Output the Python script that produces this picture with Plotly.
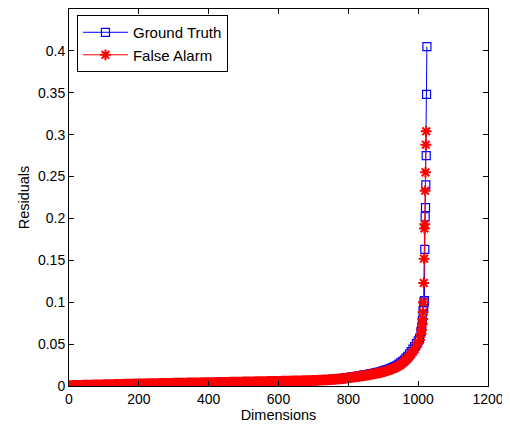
import plotly.graph_objects as go

# Dimension indices: bulk sampled every 5 units, then the steep tail
bulk_x = list(range(0, 1001, 5))

red_bulk = [
    0.0005, 0.0005, 0.0006, 0.0006, 0.0007, 0.0007, 0.0008, 0.0008, 0.0009, 0.0009,
    0.0010, 0.0010, 0.0011, 0.0011, 0.0012, 0.0012, 0.0013, 0.0013, 0.0014, 0.0014,
    0.0015, 0.0015, 0.0016, 0.0016, 0.0017, 0.0017, 0.0018, 0.0018, 0.0019, 0.0019,
    0.0020, 0.0020, 0.0021, 0.0021, 0.0022, 0.0022, 0.0023, 0.0023, 0.0024, 0.0024,
    0.0025, 0.0025, 0.0026, 0.0026, 0.0026, 0.0027, 0.0027, 0.0027, 0.0028, 0.0028,
    0.0029, 0.0029, 0.0030, 0.0030, 0.0030, 0.0031, 0.0031, 0.0031, 0.0032, 0.0032,
    0.0033, 0.0033, 0.0034, 0.0034, 0.0034, 0.0035, 0.0035, 0.0035, 0.0036, 0.0036,
    0.0037, 0.0037, 0.0037, 0.0038, 0.0038, 0.0038, 0.0039, 0.0039, 0.0040, 0.0040,
    0.0040, 0.0041, 0.0041, 0.0041, 0.0042, 0.0042, 0.0043, 0.0043, 0.0043, 0.0044,
    0.0044, 0.0044, 0.0045, 0.0045, 0.0046, 0.0046, 0.0046, 0.0047, 0.0047, 0.0047,
    0.0048, 0.0048, 0.0049, 0.0049, 0.0050, 0.0050, 0.0050, 0.0051, 0.0051, 0.0051,
    0.0052, 0.0052, 0.0053, 0.0053, 0.0054, 0.0054, 0.0054, 0.0055, 0.0055, 0.0055,
    0.0056, 0.0056, 0.0057, 0.0057, 0.0058, 0.0058, 0.0059, 0.0059, 0.0060, 0.0060,
    0.0061, 0.0061, 0.0062, 0.0062, 0.0063, 0.0063, 0.0064, 0.0064, 0.0065, 0.0065,
    0.0066, 0.0067, 0.0068, 0.0069, 0.0070, 0.0071, 0.0072, 0.0073, 0.0074, 0.0075,
    0.0076, 0.0078, 0.0079, 0.0081, 0.0082, 0.0084, 0.0085, 0.0088, 0.0091, 0.0094,
    0.0098, 0.0100, 0.0103, 0.0105, 0.0108, 0.0111, 0.0114, 0.0117, 0.0120, 0.0123,
    0.0127, 0.0130, 0.0134, 0.0138, 0.0142, 0.0146, 0.0150, 0.0153, 0.0157, 0.0163,
    0.0170, 0.0175, 0.0180, 0.0187, 0.0195, 0.0202, 0.0210, 0.0220, 0.0230, 0.0242,
    0.0255, 0.0272, 0.0290, 0.0310, 0.0330, 0.0355, 0.0380, 0.0410, 0.0440, 0.0475,
    0.0510,
]
red_tail_x = [1004, 1008, 1010, 1012, 1013, 1014, 1015, 1016, 1017, 1018, 1019, 1020, 1021, 1022, 1023]
red_tail = [0.055, 0.062, 0.067, 0.074, 0.080, 0.088, 0.100, 0.123, 0.152, 0.188,
            0.193, 0.233, 0.255, 0.288, 0.304]

blue_bulk = [
    0.0005, 0.0005, 0.0006, 0.0006, 0.0007, 0.0007, 0.0008, 0.0008, 0.0009, 0.0009,
    0.0010, 0.0010, 0.0011, 0.0011, 0.0012, 0.0012, 0.0013, 0.0013, 0.0014, 0.0014,
    0.0015, 0.0015, 0.0016, 0.0016, 0.0017, 0.0017, 0.0018, 0.0018, 0.0019, 0.0019,
    0.0020, 0.0020, 0.0021, 0.0021, 0.0022, 0.0022, 0.0023, 0.0023, 0.0024, 0.0024,
    0.0025, 0.0025, 0.0026, 0.0026, 0.0026, 0.0027, 0.0027, 0.0027, 0.0028, 0.0028,
    0.0029, 0.0029, 0.0030, 0.0030, 0.0030, 0.0031, 0.0031, 0.0031, 0.0032, 0.0032,
    0.0033, 0.0033, 0.0034, 0.0034, 0.0034, 0.0035, 0.0035, 0.0035, 0.0036, 0.0036,
    0.0037, 0.0037, 0.0037, 0.0038, 0.0038, 0.0038, 0.0039, 0.0039, 0.0040, 0.0040,
    0.0040, 0.0041, 0.0041, 0.0041, 0.0042, 0.0042, 0.0043, 0.0043, 0.0043, 0.0044,
    0.0044, 0.0044, 0.0045, 0.0045, 0.0046, 0.0046, 0.0046, 0.0047, 0.0047, 0.0047,
    0.0048, 0.0048, 0.0049, 0.0049, 0.0050, 0.0050, 0.0050, 0.0051, 0.0051, 0.0051,
    0.0052, 0.0052, 0.0053, 0.0053, 0.0054, 0.0054, 0.0054, 0.0055, 0.0055, 0.0055,
    0.0056, 0.0056, 0.0057, 0.0057, 0.0058, 0.0058, 0.0059, 0.0059, 0.0060, 0.0060,
    0.0061, 0.0061, 0.0062, 0.0062, 0.0063, 0.0063, 0.0064, 0.0064, 0.0065, 0.0065,
    0.0066, 0.0067, 0.0068, 0.0069, 0.0070, 0.0071, 0.0072, 0.0073, 0.0074, 0.0075,
    0.0077, 0.0079, 0.0080, 0.0082, 0.0084, 0.0086, 0.0088, 0.0091, 0.0094, 0.0097,
    0.0101, 0.0104, 0.0107, 0.0110, 0.0113, 0.0116, 0.0119, 0.0122, 0.0126, 0.0129,
    0.0133, 0.0137, 0.0141, 0.0145, 0.0149, 0.0153, 0.0158, 0.0162, 0.0167, 0.0173,
    0.0180, 0.0186, 0.0192, 0.0200, 0.0208, 0.0216, 0.0225, 0.0236, 0.0247, 0.0260,
    0.0275, 0.0292, 0.0310, 0.0332, 0.0355, 0.0382, 0.0410, 0.0440, 0.0470, 0.0505,
    0.0540,
]
blue_tail_x = [1004, 1008, 1010, 1012, 1014, 1016, 1017, 1018, 1019, 1020, 1021, 1022, 1023, 1024, 1025]
blue_tail = [0.057, 0.065, 0.070, 0.078, 0.090, 0.095, 0.100, 0.102, 0.163, 0.202,
             0.213, 0.240, 0.275, 0.348, 0.405]

x_ticks = [0, 200, 400, 600, 800, 1000, 1200]
y_ticks = [0, 0.05, 0.1, 0.15, 0.2, 0.25, 0.3, 0.35, 0.4, 0.45]
y_tick_labels = ["0", "0.05", "0.1", "0.15", "0.2", "0.25", "0.3", "0.35", "0.4", "0.45"]

font = "Liberation Sans, Arial, Helvetica, sans-serif"

fig = go.Figure()
fig.add_trace(go.Scatter(
    x=bulk_x + blue_tail_x, y=blue_bulk + blue_tail,
    mode="lines+markers", name="Ground Truth",
    line=dict(color="#0000ff", width=1),
    marker=dict(symbol="square-open", size=8, color="#0000ff", line=dict(width=1.2)),
))
fig.add_trace(go.Scatter(
    x=bulk_x + red_tail_x, y=red_bulk + red_tail,
    mode="lines+markers", name="False Alarm",
    line=dict(color="#ff0000", width=1),
    marker=dict(symbol="asterisk-open", size=9, color="#ff0000",
                line=dict(width=2, color="#ff0000")),
))

axis_common = dict(
    showgrid=False, zeroline=False, showline=True, linecolor="black", linewidth=1,
    mirror="allticks", ticks="inside", ticklen=5, tickcolor="black",
    tickfont=dict(family=font, size=14, color="black"),
)
fig.update_xaxes(range=[0, 1200], tickvals=x_ticks,
                 title=dict(text="Dimensions", font=dict(family=font, size=14.5, color="black"), standoff=2),
                 **axis_common)
fig.update_yaxes(range=[0, 0.45], tickvals=y_ticks, ticktext=y_tick_labels,
                 title=dict(text="Residuals", font=dict(family=font, size=14.5, color="black"), standoff=4),
                 **axis_common)

fig.update_layout(
    width=502, height=417,
    margin=dict(l=61, r=22, t=1, b=39),
    paper_bgcolor="white", plot_bgcolor="white",
    showlegend=True,
    legend=dict(x=0.019, y=0.984, xanchor="left", yanchor="top",
                bgcolor="white", bordercolor="black", borderwidth=1,
                font=dict(family=font, size=15, color="black"),
                tracegroupgap=0, itemwidth=45),
)

fig.write_html("out.html")
